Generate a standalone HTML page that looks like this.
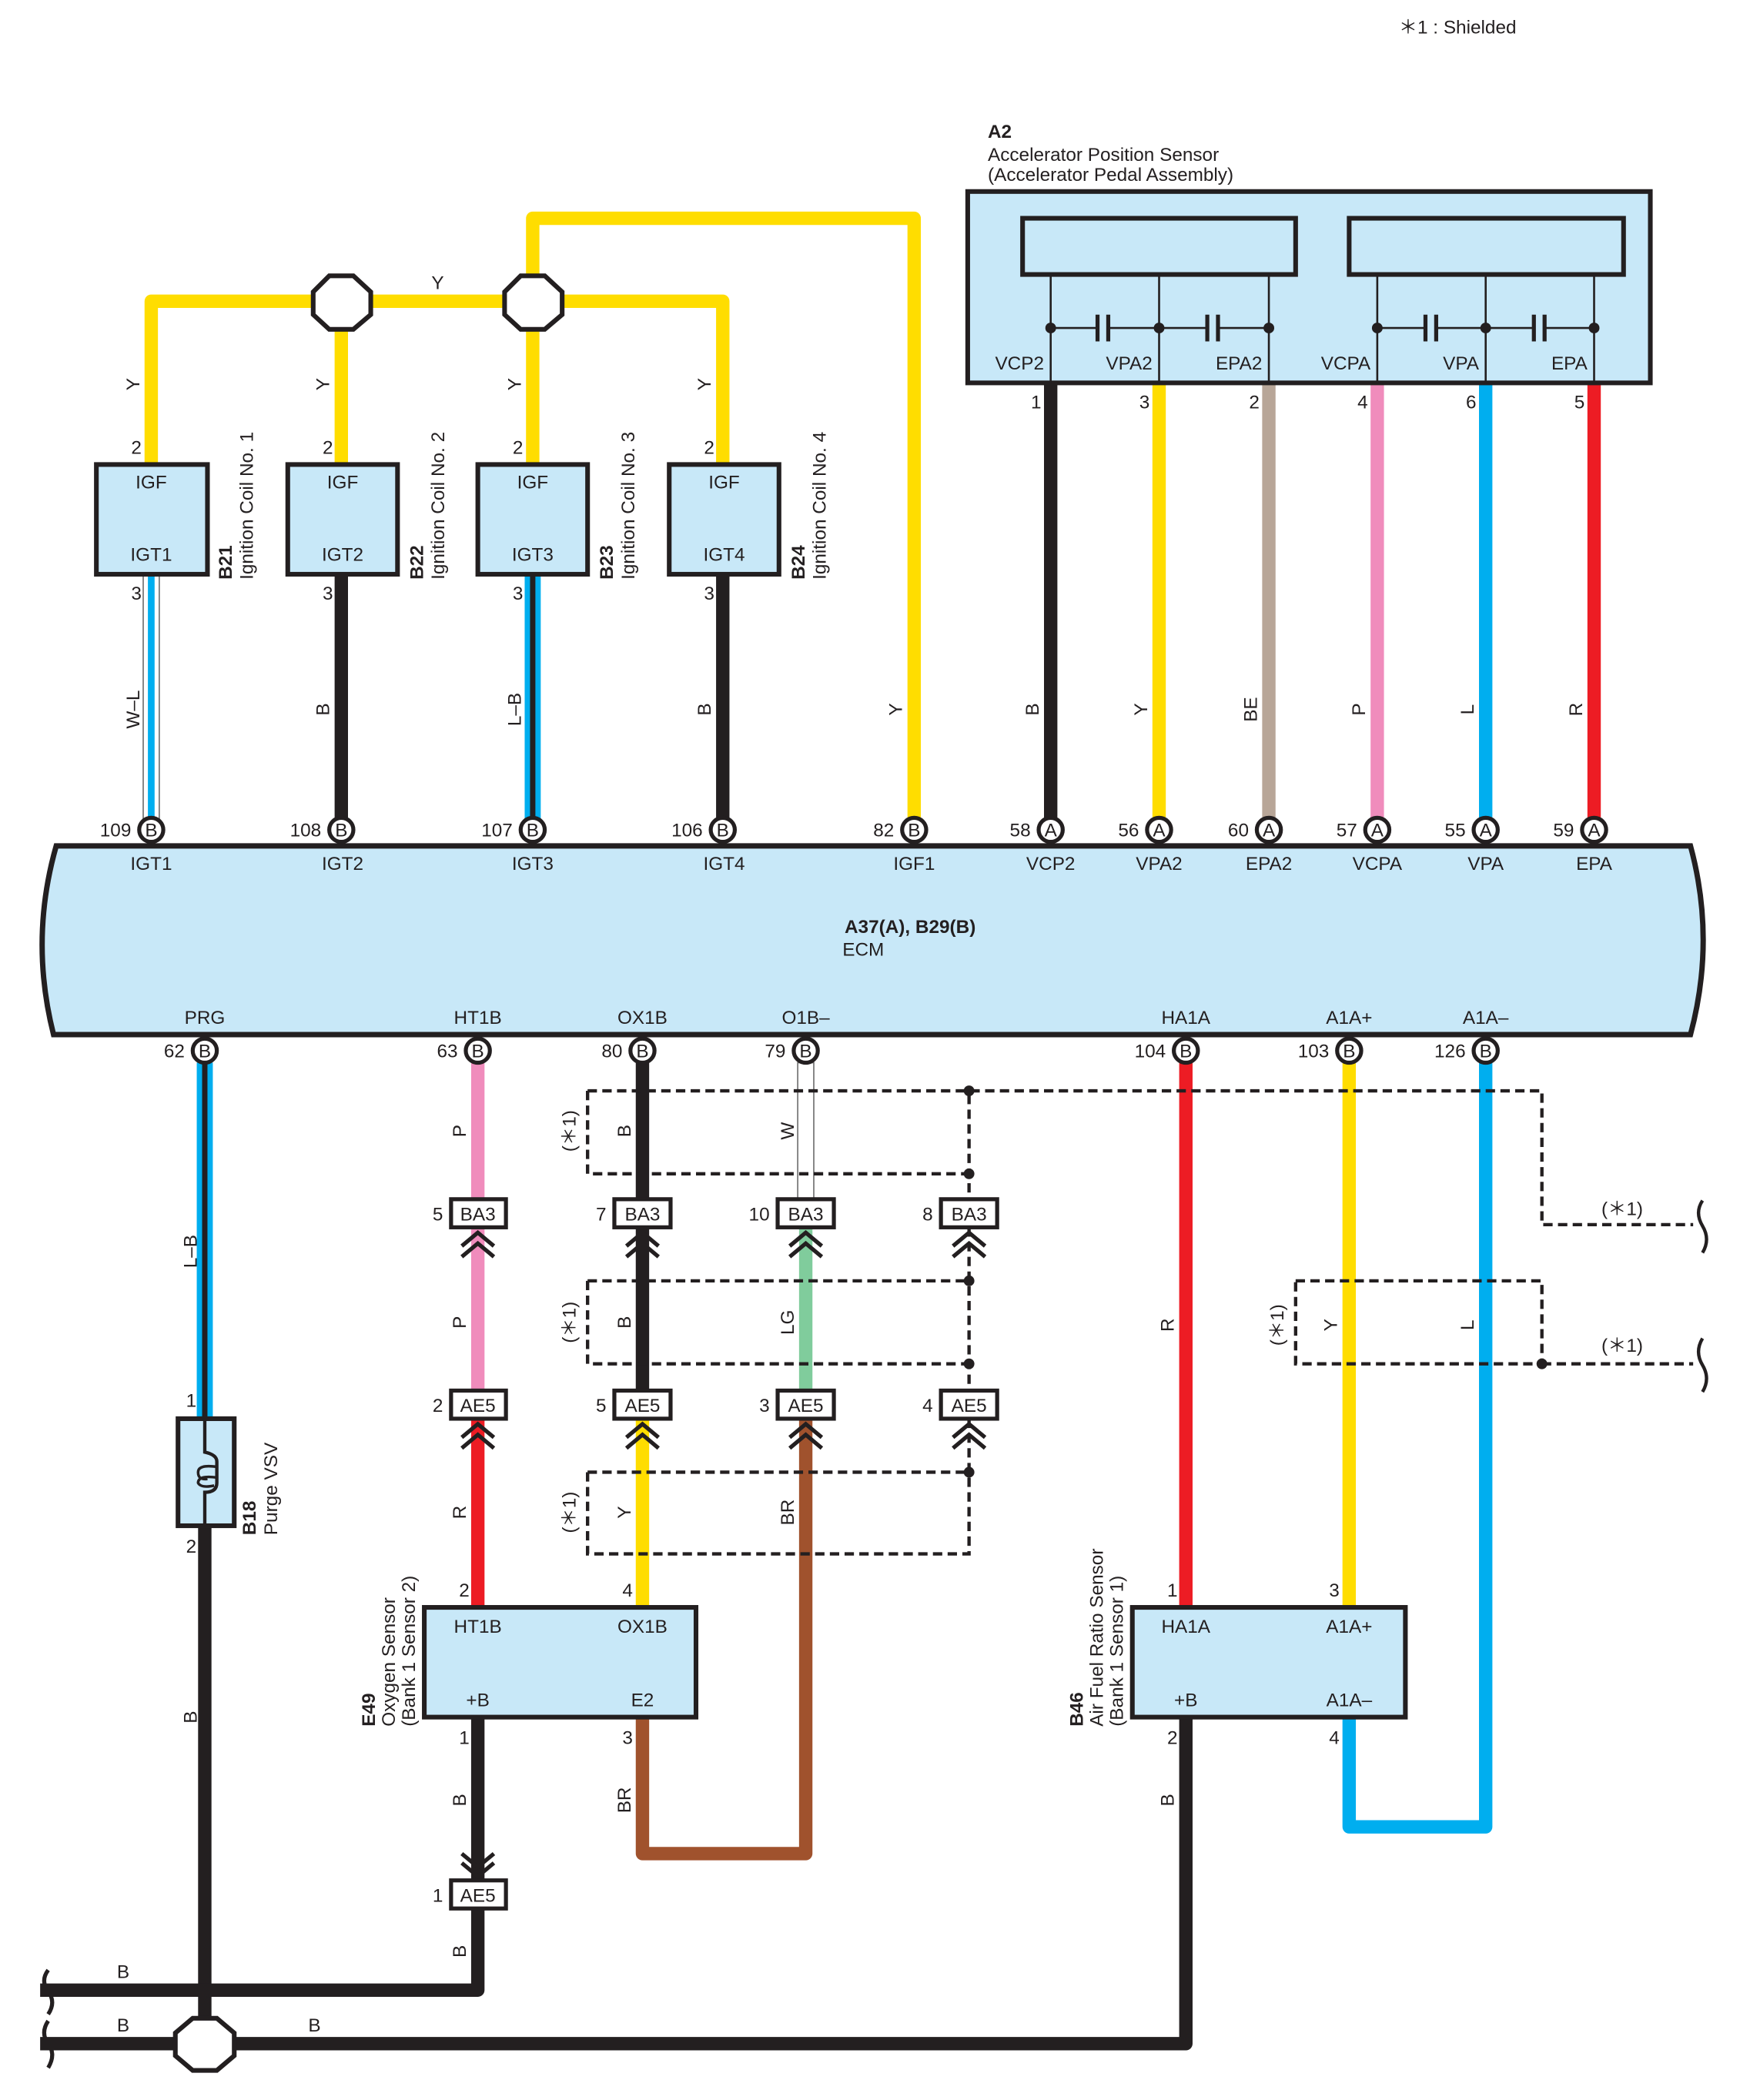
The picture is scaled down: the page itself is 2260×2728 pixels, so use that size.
<!DOCTYPE html>
<html><head><meta charset="utf-8"><style>
html,body{margin:0;padding:0;background:#fff}
svg{display:block}
text{font-family:"Liberation Sans",sans-serif;font-size:14px;fill:#231f20}
.b{font-weight:bold}
.box{fill:#c8e8f8;stroke:#231f20;stroke-width:3.5}
.w{fill:none;stroke-width:10;stroke-linejoin:round}
.d{fill:none;stroke:#231f20;stroke-width:2.5;stroke-dasharray:7 4}
.ch{fill:none;stroke:#231f20;stroke-width:3}
.cb{fill:#fff;stroke:#231f20;stroke-width:3}
.pc{fill:#fff;stroke:#231f20;stroke-width:3}
.m{text-anchor:middle}
.e{text-anchor:end}
</style></head><body>
<svg width="2260" height="2728" viewBox="0 0 1300 1569" xmlns="http://www.w3.org/2000/svg">
<text x="1045" y="25">＊1 : Shielded</text>

<!-- Yellow ignition bus -->
<path class="w" stroke="#ffdd00" d="M113 347 V225 H540 V347"/>
<path class="w" stroke="#ffdd00" d="M255 225 V347"/>
<path class="w" stroke="#ffdd00" d="M398 347 V163 H683 V612"/>
<polygon points="246,206 264,206 277,218 277,235 264,246 246,246 234,235 234,218" fill="#fff" stroke="#231f20" stroke-width="3.5"/>
<polygon points="389,206 407,206 420,218 420,235 407,246 389,246 377,235 377,218" fill="#fff" stroke="#231f20" stroke-width="3.5"/>
<text x="327" y="216" class="m">Y</text>
<g transform="translate(104,287) rotate(-90)"><text class="m">Y</text></g>
<g transform="translate(246,287) rotate(-90)"><text class="m">Y</text></g>
<g transform="translate(389,287) rotate(-90)"><text class="m">Y</text></g>
<g transform="translate(531,287) rotate(-90)"><text class="m">Y</text></g>

<!-- coil wires -->
<rect x="107" y="430" width="12" height="182" fill="#fff" stroke="#777" stroke-width="1"/>
<rect x="110.5" y="430" width="5" height="182" fill="#00aeef"/>
<path class="w" stroke="#231f20" d="M255 430 V612"/>
<rect x="392" y="430" width="12" height="182" fill="#00aeef"/>
<rect x="396" y="430" width="4" height="182" fill="#231f20"/>
<path class="w" stroke="#231f20" d="M540 430 V612"/>
<g transform="translate(104,530) rotate(-90)"><text class="m">W–L</text></g>
<g transform="translate(246,530) rotate(-90)"><text class="m">B</text></g>
<g transform="translate(389,530) rotate(-90)"><text class="m">L–B</text></g>
<g transform="translate(531,530) rotate(-90)"><text class="m">B</text></g>
<g transform="translate(674,530) rotate(-90)"><text class="m">Y</text></g>

<!-- coil boxes -->
<g>
<rect class="box" x="72" y="347" width="83" height="82"/>
<rect class="box" x="215" y="347" width="82" height="82"/>
<rect class="box" x="357" y="347" width="82" height="82"/>
<rect class="box" x="500" y="347" width="82" height="82"/>
<text x="113" y="365" class="m">IGF</text><text x="113" y="419" class="m">IGT1</text>
<text x="256" y="365" class="m">IGF</text><text x="256" y="419" class="m">IGT2</text>
<text x="398" y="365" class="m">IGF</text><text x="398" y="419" class="m">IGT3</text>
<text x="541" y="365" class="m">IGF</text><text x="541" y="419" class="m">IGT4</text>
<text x="98" y="339">2</text><text x="98" y="448">3</text>
<text x="241" y="339">2</text><text x="241" y="448">3</text>
<text x="383" y="339">2</text><text x="383" y="448">3</text>
<text x="526" y="339">2</text><text x="526" y="448">3</text>
<g transform="translate(173,433) rotate(-90)"><text class="b">B21</text><text y="16">Ignition Coil No. 1</text></g>
<g transform="translate(316,433) rotate(-90)"><text class="b">B22</text><text y="16">Ignition Coil No. 2</text></g>
<g transform="translate(458,433) rotate(-90)"><text class="b">B23</text><text y="16">Ignition Coil No. 3</text></g>
<g transform="translate(601,433) rotate(-90)"><text class="b">B24</text><text y="16">Ignition Coil No. 4</text></g>
</g>

<!-- A2 sensor -->
<text x="738" y="103" class="b">A2</text>
<text x="738" y="120">Accelerator Position Sensor</text>
<text x="738" y="135">(Accelerator Pedal Assembly)</text>
<path class="w" stroke="#231f20" d="M785 286 V612"/>
<path class="w" stroke="#ffdd00" d="M866 286 V612"/>
<path class="w" stroke="#b8a698" d="M948 286 V612"/>
<path class="w" stroke="#f08cbc" d="M1029 286 V612"/>
<path class="w" stroke="#00aeef" d="M1110 286 V612"/>
<path class="w" stroke="#ed1c24" d="M1191 286 V612"/>
<rect class="box" x="723" y="143" width="510" height="143"/>
<rect x="764" y="163" width="204" height="42" fill="none" stroke="#231f20" stroke-width="3.5"/>
<rect x="1008" y="163" width="205" height="42" fill="none" stroke="#231f20" stroke-width="3.5"/>
<g stroke="#231f20" stroke-width="1.5" fill="none">
<path d="M785 205V286M866 205V286M948 205V286M1029 205V286M1110 205V286M1191 205V286"/>
<path d="M785 245H820M828 245H866H902M910 245H948M1029 245H1065M1073 245H1110H1146M1154 245H1191"/>
</g>
<g stroke="#231f20" stroke-width="3">
<path d="M820 235V255M828 235V255M902 235V255M910 235V255M1065 235V255M1073 235V255M1146 235V255M1154 235V255"/>
</g>
<g fill="#231f20"><circle cx="785" cy="245" r="4"/><circle cx="866" cy="245" r="4"/><circle cx="948" cy="245" r="4"/><circle cx="1029" cy="245" r="4"/><circle cx="1110" cy="245" r="4"/><circle cx="1191" cy="245" r="4"/></g>
<text x="780" y="276" class="e">VCP2</text><text x="861" y="276" class="e">VPA2</text><text x="943" y="276" class="e">EPA2</text>
<text x="1024" y="276" class="e">VCPA</text><text x="1105" y="276" class="e">VPA</text><text x="1186" y="276" class="e">EPA</text>
<text x="778" y="305" class="e">1</text><text x="859" y="305" class="e">3</text><text x="941" y="305" class="e">2</text>
<text x="1022" y="305" class="e">4</text><text x="1103" y="305" class="e">6</text><text x="1184" y="305" class="e">5</text>
<g transform="translate(776,530) rotate(-90)"><text class="m">B</text></g>
<g transform="translate(857,530) rotate(-90)"><text class="m">Y</text></g>
<g transform="translate(939,530) rotate(-90)"><text class="m">BE</text></g>
<g transform="translate(1020,530) rotate(-90)"><text class="m">P</text></g>
<g transform="translate(1101,530) rotate(-90)"><text class="m">L</text></g>
<g transform="translate(1182,530) rotate(-90)"><text class="m">R</text></g>

<!-- ECM -->
<path d="M42 632 H1263 Q1282 702 1263 773 H40 Q22 702 42 632 Z" fill="#c8e8f8" stroke="#231f20" stroke-width="4"/>
<text x="680" y="697" class="m b">A37(A), B29(B)</text>
<text x="645" y="714" class="m">ECM</text>
<g>
<text x="113" y="650" class="m">IGT1</text><text x="256" y="650" class="m">IGT2</text><text x="398" y="650" class="m">IGT3</text>
<text x="541" y="650" class="m">IGT4</text><text x="683" y="650" class="m">IGF1</text><text x="785" y="650" class="m">VCP2</text>
<text x="866" y="650" class="m">VPA2</text><text x="948" y="650" class="m">EPA2</text><text x="1029" y="650" class="m">VCPA</text>
<text x="1110" y="650" class="m">VPA</text><text x="1191" y="650" class="m">EPA</text>
<text x="153" y="765" class="m">PRG</text><text x="357" y="765" class="m">HT1B</text><text x="480" y="765" class="m">OX1B</text>
<text x="602" y="765" class="m">O1B–</text><text x="886" y="765" class="m">HA1A</text><text x="1008" y="765" class="m">A1A+</text>
<text x="1110" y="765" class="m">A1A–</text>
</g>
<!-- ECM pins top -->
<g>
<circle class="pc" cx="113" cy="620" r="9"/><text x="113" y="625" class="m">B</text><text x="98" y="625" class="e">109</text>
<circle class="pc" cx="255" cy="620" r="9"/><text x="255" y="625" class="m">B</text><text x="240" y="625" class="e">108</text>
<circle class="pc" cx="398" cy="620" r="9"/><text x="398" y="625" class="m">B</text><text x="383" y="625" class="e">107</text>
<circle class="pc" cx="540" cy="620" r="9"/><text x="540" y="625" class="m">B</text><text x="525" y="625" class="e">106</text>
<circle class="pc" cx="683" cy="620" r="9"/><text x="683" y="625" class="m">B</text><text x="668" y="625" class="e">82</text>
<circle class="pc" cx="785" cy="620" r="9"/><text x="785" y="625" class="m">A</text><text x="770" y="625" class="e">58</text>
<circle class="pc" cx="866" cy="620" r="9"/><text x="866" y="625" class="m">A</text><text x="851" y="625" class="e">56</text>
<circle class="pc" cx="948" cy="620" r="9"/><text x="948" y="625" class="m">A</text><text x="933" y="625" class="e">60</text>
<circle class="pc" cx="1029" cy="620" r="9"/><text x="1029" y="625" class="m">A</text><text x="1014" y="625" class="e">57</text>
<circle class="pc" cx="1110" cy="620" r="9"/><text x="1110" y="625" class="m">A</text><text x="1095" y="625" class="e">55</text>
<circle class="pc" cx="1191" cy="620" r="9"/><text x="1191" y="625" class="m">A</text><text x="1176" y="625" class="e">59</text>
</g>

<!-- lower wires -->
<rect x="147" y="794" width="12" height="266" fill="#00aeef"/>
<rect x="151" y="794" width="4" height="266" fill="#231f20"/>
<path class="w" stroke="#231f20" d="M153 1140 V1527"/>
<path class="w" stroke="#f08cbc" d="M357 794 V1040"/>
<path class="w" stroke="#ed1c24" d="M357 1060 V1201"/>
<path class="w" stroke="#231f20" d="M480 794 V1040"/>
<path class="w" stroke="#ffdd00" d="M480 1060 V1201"/>
<rect x="596" y="794" width="12" height="104" fill="#fff" stroke="#777" stroke-width="1"/>
<path class="w" stroke="#80cc9c" d="M602 918 V1040"/>
<path class="w" stroke="#a0522d" d="M602 1060 V1385 H480 V1284"/>
<path class="w" stroke="#ed1c24" d="M886 794 V1201"/>
<path class="w" stroke="#ffdd00" d="M1008 794 V1201"/>
<path class="w" stroke="#00aeef" d="M1110 794 V1365 H1008 V1284"/>
<path class="w" stroke="#231f20" d="M357 1284 V1487 H30"/>
<path class="w" stroke="#231f20" d="M886 1284 V1527 H30"/>

<!-- bottom ECM pins -->
<g>
<circle class="pc" cx="153" cy="785" r="9"/><text x="153" y="790" class="m">B</text><text x="138" y="790" class="e">62</text>
<circle class="pc" cx="357" cy="785" r="9"/><text x="357" y="790" class="m">B</text><text x="342" y="790" class="e">63</text>
<circle class="pc" cx="480" cy="785" r="9"/><text x="480" y="790" class="m">B</text><text x="465" y="790" class="e">80</text>
<circle class="pc" cx="602" cy="785" r="9"/><text x="602" y="790" class="m">B</text><text x="587" y="790" class="e">79</text>
<circle class="pc" cx="886" cy="785" r="9"/><text x="886" y="790" class="m">B</text><text x="871" y="790" class="e">104</text>
<circle class="pc" cx="1008" cy="785" r="9"/><text x="1008" y="790" class="m">B</text><text x="993" y="790" class="e">103</text>
<circle class="pc" cx="1110" cy="785" r="9"/><text x="1110" y="790" class="m">B</text><text x="1095" y="790" class="e">126</text>
</g>

<!-- shields -->
<path class="d" d="M439 815 H1152 V915 H1265"/>
<path class="d" d="M439 815 V877 H724"/>
<path class="d" d="M439 957 H724 M439 957 V1019 H724"/>
<path class="d" d="M439 1100 H724 M439 1100 V1161 H724 V815"/>
<path class="d" d="M968 957 H1152 V1019 H968 Z M1152 1019 H1265"/>
<g fill="#231f20"><circle cx="724" cy="815" r="4"/><circle cx="724" cy="877" r="4"/><circle cx="724" cy="957" r="4"/><circle cx="724" cy="1019" r="4"/><circle cx="724" cy="1100" r="4"/><circle cx="1152" cy="1019" r="4"/></g>
<path d="M1272 897 Q1266 906 1272 916 Q1278 926 1272 936 M1272 1000 Q1266 1010 1272 1020 Q1278 1030 1272 1040" fill="none" stroke="#231f20" stroke-width="2.5"/>
<path d="M36 1472 Q30 1480 36 1488 Q42 1496 36 1505 M36 1510 Q30 1519 36 1527 Q42 1535 36 1545" fill="none" stroke="#231f20" stroke-width="3"/>
<text x="1212" y="908" class="m">(＊1)</text>
<text x="1212" y="1010" class="m">(＊1)</text>
<g transform="translate(430,845) rotate(-90)"><text class="m">(＊1)</text></g>
<g transform="translate(430,988) rotate(-90)"><text class="m">(＊1)</text></g>
<g transform="translate(430,1130) rotate(-90)"><text class="m">(＊1)</text></g>
<g transform="translate(959,990) rotate(-90)"><text class="m">(＊1)</text></g>

<!-- wire labels lower -->
<g transform="translate(147,935) rotate(-90)"><text class="m">L–B</text></g>
<g transform="translate(147,1283) rotate(-90)"><text class="m">B</text></g>
<g transform="translate(348,845) rotate(-90)"><text class="m">P</text></g>
<g transform="translate(348,988) rotate(-90)"><text class="m">P</text></g>
<g transform="translate(348,1130) rotate(-90)"><text class="m">R</text></g>
<g transform="translate(471,845) rotate(-90)"><text class="m">B</text></g>
<g transform="translate(471,988) rotate(-90)"><text class="m">B</text></g>
<g transform="translate(471,1130) rotate(-90)"><text class="m">Y</text></g>
<g transform="translate(593,845) rotate(-90)"><text class="m">W</text></g>
<g transform="translate(593,988) rotate(-90)"><text class="m">LG</text></g>
<g transform="translate(593,1130) rotate(-90)"><text class="m">BR</text></g>
<g transform="translate(877,990) rotate(-90)"><text class="m">R</text></g>
<g transform="translate(999,990) rotate(-90)"><text class="m">Y</text></g>
<g transform="translate(1101,990) rotate(-90)"><text class="m">L</text></g>
<g transform="translate(348,1345) rotate(-90)"><text class="m">B</text></g>
<g transform="translate(348,1458) rotate(-90)"><text class="m">B</text></g>
<g transform="translate(471,1345) rotate(-90)"><text class="m">BR</text></g>
<g transform="translate(877,1345) rotate(-90)"><text class="m">B</text></g>
<text x="92" y="1478" class="m">B</text><text x="92" y="1518" class="m">B</text><text x="235" y="1518" class="m">B</text>

<!-- connectors BA3/AE5 -->
<g>
<rect class="cb" x="337" y="896" width="41" height="21"/><text x="357" y="912" class="m">BA3</text><text x="331" y="912" class="e">5</text>
<rect class="cb" x="459" y="896" width="42" height="21"/><text x="480" y="912" class="m">BA3</text><text x="453" y="912" class="e">7</text>
<rect class="cb" x="581" y="896" width="42" height="21"/><text x="602" y="912" class="m">BA3</text><text x="575" y="912" class="e">10</text>
<rect class="cb" x="703" y="896" width="42" height="21"/><text x="724" y="912" class="m">BA3</text><text x="697" y="912" class="e">8</text>
<rect class="cb" x="337" y="1039" width="41" height="21"/><text x="357" y="1055" class="m">AE5</text><text x="331" y="1055" class="e">2</text>
<rect class="cb" x="459" y="1039" width="42" height="21"/><text x="480" y="1055" class="m">AE5</text><text x="453" y="1055" class="e">5</text>
<rect class="cb" x="581" y="1039" width="42" height="21"/><text x="602" y="1055" class="m">AE5</text><text x="575" y="1055" class="e">3</text>
<rect class="cb" x="703" y="1039" width="42" height="21"/><text x="724" y="1055" class="m">AE5</text><text x="697" y="1055" class="e">4</text>
<rect class="cb" x="337" y="1405" width="41" height="21"/><text x="357" y="1421" class="m">AE5</text><text x="331" y="1421" class="e">1</text>
</g>
<g class="ch">
<path d="M345 931 L357 921 L369 931 M345 939 L357 929 L369 939"/>
<path d="M468 931 L480 921 L492 931 M468 939 L480 929 L492 939"/>
<path d="M590 931 L602 921 L614 931 M590 939 L602 929 L614 939"/>
<path d="M712 931 L724 921 L736 931 M712 939 L724 929 L736 939"/>
<path d="M345 1074 L357 1064 L369 1074 M345 1082 L357 1072 L369 1082"/>
<path d="M468 1074 L480 1064 L492 1074 M468 1082 L480 1072 L492 1082"/>
<path d="M590 1074 L602 1064 L614 1074 M590 1082 L602 1072 L614 1082"/>
<path d="M712 1074 L724 1064 L736 1074 M712 1082 L724 1072 L736 1082"/>
<path d="M345 1385 L357 1395 L369 1385 M345 1392 L357 1402 L369 1392"/>
</g>

<!-- Purge VSV -->
<rect class="box" x="133" y="1060" width="42" height="80"/>
<path d="M153 1060 V1085 Q162 1087 162 1092 V1108 Q162 1115 153 1115 V1140" fill="none" stroke="#231f20" stroke-width="2.5"/>
<path d="M162 1096 Q148 1094 148 1100 Q148 1106 155 1105 M162 1104 Q148 1102 148 1108 Q150 1112 160 1110" fill="none" stroke="#231f20" stroke-width="2"/>
<text x="139" y="1051" class="e" style="text-anchor:start">1</text>
<text x="139" y="1160">2</text>
<g transform="translate(191,1147) rotate(-90)"><text class="b">B18</text><text y="16">Purge VSV</text></g>

<!-- splice bottom -->
<polygon points="144,1508 162,1508 175,1519 175,1536 162,1547 144,1547 131,1536 131,1519" fill="#fff" stroke="#231f20" stroke-width="3.5"/>

<!-- E49 -->
<rect class="box" x="317" y="1201" width="203" height="82"/>
<text x="357" y="1220" class="m">HT1B</text><text x="480" y="1220" class="m">OX1B</text>
<text x="357" y="1275" class="m">+B</text><text x="480" y="1275" class="m">E2</text>
<text x="343" y="1193">2</text><text x="465" y="1193">4</text><text x="343" y="1303">1</text><text x="465" y="1303">3</text>
<g transform="translate(280,1290) rotate(-90)"><text class="b">E49</text><text y="15">Oxygen Sensor</text><text y="30">(Bank 1 Sensor 2)</text></g>

<!-- B46 -->
<rect class="box" x="846" y="1201" width="204" height="82"/>
<text x="886" y="1220" class="m">HA1A</text><text x="1008" y="1220" class="m">A1A+</text>
<text x="886" y="1275" class="m">+B</text><text x="1008" y="1275" class="m">A1A–</text>
<text x="872" y="1193">1</text><text x="993" y="1193">3</text><text x="872" y="1303">2</text><text x="993" y="1303">4</text>
<g transform="translate(809,1290) rotate(-90)"><text class="b">B46</text><text y="15">Air Fuel Ratio Sensor</text><text y="30">(Bank 1 Sensor 1)</text></g>
</svg>
</body></html>
